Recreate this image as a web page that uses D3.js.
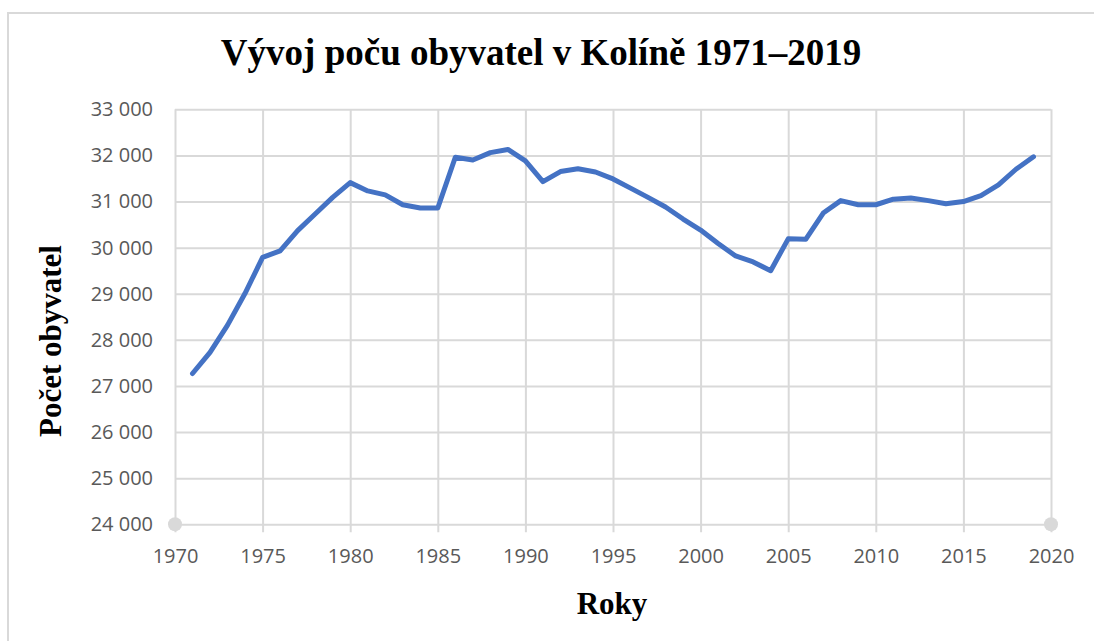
<!DOCTYPE html>
<html>
<head>
<meta charset="utf-8">
<script src="https://cdn.jsdelivr.net/npm/d3@7"></script>
<style>
  body { margin: 0; background: #fff; }
</style>
</head>
<body>
<script>
  // population of Kolín by year
  var years = [1971, 1972, 1973, 1974, 1975, 1976, 1977, 1978, 1979, 1980,
    1981, 1982, 1983, 1984, 1985, 1986, 1987, 1988, 1989, 1990,
    1991, 1992, 1993, 1994, 1995, 1996, 1997, 1998, 1999, 2000,
    2001, 2002, 2003, 2004, 2005, 2006, 2007, 2008, 2009, 2010,
    2011, 2012, 2013, 2014, 2015, 2016, 2017, 2018, 2019];
  var population = [27270, 27730, 28320, 29010, 29790, 29930, 30370, 30730, 31090, 31410,
    31230, 31145, 30930, 30860, 30860, 31960, 31900, 32060, 32130, 31880,
    31430, 31650, 31710, 31640, 31490, 31290, 31090, 30880, 30620, 30380,
    30090, 29820, 29690, 29500, 30190, 30180, 30750, 31020, 30930, 30930,
    31050, 31075, 31020, 30950, 31000, 31130, 31360, 31700, 31970];
  var xTicks = [1970, 1975, 1980, 1985, 1990, 1995, 2000, 2005, 2010, 2015, 2020];
  var yTicks = [24000, 25000, 26000, 27000, 28000, 29000, 30000, 31000, 32000, 33000];

  var width = 1094, height = 641;
  var plotLeft = 175, plotRight = 1051, plotTop = 109.3, plotBottom = 524.3;

  var svg = d3.select("body").append("svg")
    .attr("width", width)
    .attr("height", height);

  // chart frame
  svg.append("rect")
    .attr("x", 8).attr("y", 13)
    .attr("width", 1100).attr("height", 650)
    .attr("fill", "#fff")
    .attr("stroke", "#d9d9d9")
    .attr("stroke-width", 2);

  var x = d3.scaleLinear().domain([1970, 2020]).range([plotLeft, plotRight]);
  var y = d3.scaleLinear().domain([24000, 33000]).range([plotBottom, plotTop]);

  var fmt = function(v) { return d3.format(",")(v).replace(/,/g, " "); };

  // horizontal grid + y labels
  var yAxis = d3.axisLeft(y)
    .tickValues(yTicks)
    .tickSize(0)
    .tickPadding(22)
    .tickFormat(fmt);
  var gy = svg.append("g").attr("transform", "translate(" + plotLeft + ",0)").call(yAxis);
  gy.select(".domain").remove();
  gy.selectAll("line")
    .attr("x2", plotRight - plotLeft)
    .attr("stroke", "#d9d9d9").attr("stroke-width", 2);
  gy.selectAll("text")
    .attr("fill", "#595959")
    .style("font-family", "'Open Sans', sans-serif")
    .style("font-size", "20px");

  // vertical grid (extends a bit below the axis as tick marks)
  var xAxis = d3.axisBottom(x)
    .tickValues(xTicks)
    .tickSize(0)
    .tickPadding(25)
    .tickFormat(d3.format("d"));
  var gx = svg.append("g").attr("transform", "translate(0," + plotBottom + ")").call(xAxis);
  gx.select(".domain").remove();
  gx.selectAll("line")
    .attr("y1", 8)
    .attr("y2", -(plotBottom - plotTop))
    .attr("stroke", "#d9d9d9").attr("stroke-width", 2);
  gx.selectAll("text")
    .attr("fill", "#595959")
    .style("font-family", "'Open Sans', sans-serif")
    .style("font-size", "20px");

  // end markers of the axis
  svg.selectAll("circle.end")
    .data([1970, 2020])
    .enter().append("circle")
    .attr("class", "end")
    .attr("cx", function(d) { return x(d); })
    .attr("cy", plotBottom)
    .attr("r", 7)
    .attr("fill", "#d9d9d9");

  // population line
  var line = d3.line()
    .x(function(d, i) { return x(years[i]); })
    .y(function(d) { return y(d); });
  svg.append("path")
    .datum(population)
    .attr("d", line)
    .attr("fill", "none")
    .attr("stroke", "#4472c4")
    .attr("stroke-width", 5)
    .attr("stroke-linejoin", "round")
    .attr("stroke-linecap", "round");

  // titles
  svg.append("text")
    .attr("x", 541).attr("y", 65)
    .attr("text-anchor", "middle")
    .style("font-family", "'Liberation Serif', 'Times New Roman', serif")
    .style("font-weight", "bold")
    .style("font-size", "37px")
    .text("Vývoj poču obyvatel v Kolíně 1971–2019");

  svg.append("text")
    .attr("x", 612).attr("y", 614)
    .attr("text-anchor", "middle")
    .style("font-family", "'Liberation Serif', 'Times New Roman', serif")
    .style("font-weight", "bold")
    .style("font-size", "31px")
    .text("Roky");

  svg.append("text")
    .attr("transform", "translate(61,341) rotate(-90)")
    .attr("text-anchor", "middle")
    .style("font-family", "'Liberation Serif', 'Times New Roman', serif")
    .style("font-weight", "bold")
    .style("font-size", "31px")
    .text("Počet obyvatel");
</script>
</body>
</html>
